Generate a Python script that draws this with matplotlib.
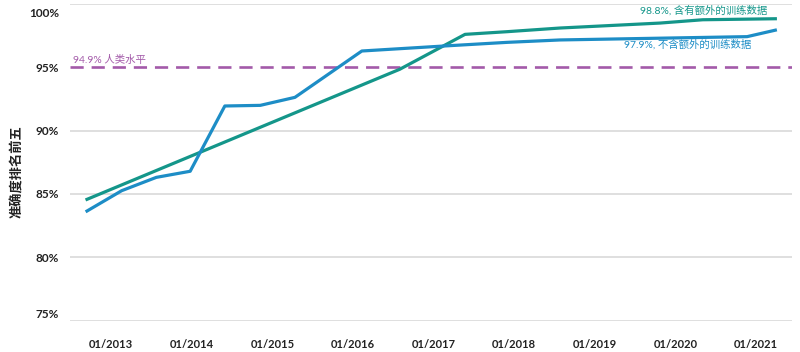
import matplotlib
matplotlib.use("Agg")
import matplotlib.pyplot as plt
import matplotlib.transforms as mtransforms

plt.rcParams['font.family'] = ['Lato', 'Noto Sans CJK SC', 'DejaVu Sans']

# Data (fractional years, top-5 accuracy %)
green_years = [2012.70, 2016.58, 2017.39, 2017.91, 2018.57, 2019.81, 2020.34, 2021.24]
green_vals = [84.58, 94.82, 97.57, 97.78, 98.07, 98.46, 98.72, 98.80]

blue_years = [2012.70, 2013.13, 2013.56, 2013.98, 2014.41, 2014.85, 2015.28, 2016.11,
              2017.12, 2017.91, 2018.57, 2020.89, 2021.24]
blue_vals = [83.66, 85.26, 86.31, 86.79, 91.93, 91.98, 92.61, 96.26,
             96.65, 96.94, 97.13, 97.39, 97.90]

human_level = 95.0
human_label = "94.9% 人类水平"
green_label = "98.8%, 含有额外的训练数据"
blue_label = "97.9%, 不含额外的训练数据"
y_label = "准确度排名前五"

x_ticks = [2013, 2014, 2015, 2016, 2017, 2018, 2019, 2020, 2021]
x_tick_labels = ["01/2013", "01/2014", "01/2015", "01/2016", "01/2017",
                 "01/2018", "01/2019", "01/2020", "01/2021"]
y_ticks = [75, 80, 85, 90, 95, 100]
y_tick_labels = ["75%", "80%", "85%", "90%", "95%", "100%"]

green_color = "#14968a"
blue_color = "#1d8dc6"
purple_color = "#a35aa9"
text_color = "#222222"

fig = plt.figure(figsize=(8, 3.52), dpi=100)
ax = fig.add_axes([70/800, (352-321)/352, (792-70)/800, (321-3.5)/352])

ax.set_xlim(2012.489, 2021.447)
ax.set_ylim(75, 100)

for t in y_ticks:
    if t == 95:
        continue
    ax.axhline(t, color="#dcdcdc", lw=1.3, zorder=0)

ax.axhline(human_level, color=purple_color, lw=1.9, ls=(0, (5, 3)), zorder=1)

ax.plot(green_years, green_vals, color=green_color, lw=2.3, solid_joinstyle='round', zorder=3)
ax.plot(blue_years, blue_vals, color=blue_color, lw=2.3, solid_joinstyle='round', zorder=4)

for s in ax.spines.values():
    s.set_visible(False)

ax.set_xticks(x_ticks)
ax.set_xticklabels(x_tick_labels, fontsize=8, fontweight='bold', color=text_color)
ax.set_yticks(y_ticks)
ax.set_yticklabels(y_tick_labels, fontsize=8.5, fontweight='bold', color=text_color)
ax.tick_params(axis='both', length=0)
ax.tick_params(axis='x', pad=13)
ax.tick_params(axis='y', pad=8)

# nudge the extreme labels inward like the reference
labels = ax.get_yticklabels()
labels[0].set_transform(labels[0].get_transform() + mtransforms.ScaledTranslation(0, 7/100, fig.dpi_scale_trans))
labels[-1].set_transform(labels[-1].get_transform() + mtransforms.ScaledTranslation(0, -9/100, fig.dpi_scale_trans))

fig.text(16/800, 1 - 172/352, y_label, rotation=90, ha='center', va='center',
         fontsize=9.5, fontweight='bold', color=text_color)

ax.text(2012.53, 95.55, human_label, color=purple_color, fontsize=7.5, ha='left', va='center')
ax.text(2021.14, 99.43, green_label, color=green_color, fontsize=7.5, ha='right', va='center')
ax.text(2020.94, 96.8, blue_label, color=blue_color, fontsize=7.5, ha='right', va='center')

fig.savefig("out.png", dpi=100)
